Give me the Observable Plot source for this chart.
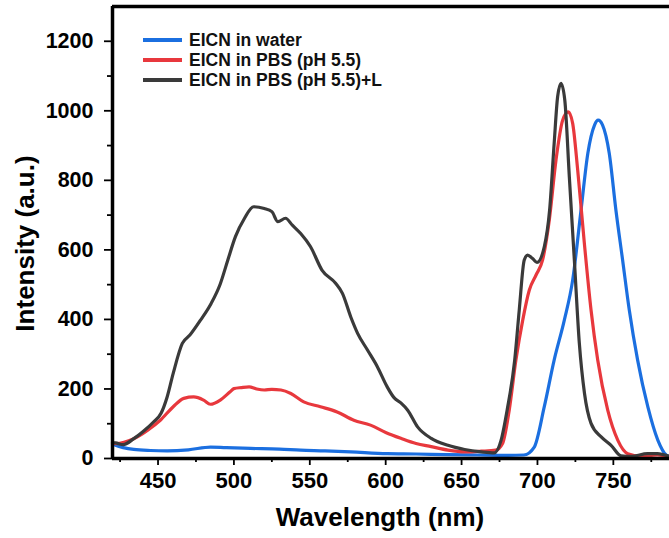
<!DOCTYPE html>
<html>
<head>
<meta charset="utf-8">
<script src="https://cdn.jsdelivr.net/npm/d3@7"></script>
<script src="https://cdn.jsdelivr.net/npm/@observablehq/plot@0.6"></script>
<style>
  html, body { margin: 0; padding: 0; background: #fff; }
  #wrap { position: relative; width: 669px; height: 538px; overflow: hidden; }
  #legend { position: absolute; left: 143px; top: 30px; font-family: "Liberation Sans", Arial, sans-serif; font-weight: bold; font-size: 17.5px; color: #111; }
  #legend .row { display: flex; align-items: center; height: 20px; }
  #legend .sw { width: 39px; height: 4px; margin-right: 7px; }
</style>
</head>
<body>
<div id="wrap"><div id="legend"></div></div>
<script>
const seriesNames = ["EICN in water", "EICN in PBS (pH 5.5)", "EICN in PBS (pH 5.5)+L"];
const seriesColors = ["#1b6fe0", "#e8383d", "#3a3a3a"];

const wlWater = [420,422,434,445,456,470,484.6,495,511,530,544,560,577,601,620,640,660,680,691,697.9,704.5,711,717.7,723.2,728.7,733.2,737.6,740,742.9,747.3,751.7,756.1,760.5,766,772.7,779.3,784.8,787];
const intWater = [42,38,26,23,22,25,33,31,29,27,24,22,19,14,13,11,10,9,10,33,149,283,398,513,714,878,959,973,959,878,714,571,427,283,149,53,10,5];

const wlPBS = [420,422,434,443,451.5,460,467,473.5,480,484.5,491,497.5,500,505,510,515,520,525,531,537.5,546,557,568,579,590,600,610,620,630,641,652,663,672.5,677,681.4,685.8,690.3,694.6,699,703.4,707.8,712.2,716.6,720.3,723.2,726.5,730.9,735.3,739.7,746.3,752.9,759.5,768,779,787];
const intPBS = [44,43,57,81,110,149,173,177,168,156,168,192,201,204,206,200,197,199,197,187,163,149,134,110,96,75,58,43,34,24,19,21,24,43,139,283,398,484,527,571,686,858,973,997,964,830,619,427,283,139,53,14,7,10,5];

const wlPBSL = [420,422,427,434,440,447,452,456,460,466,471,478,485,491,496,501,507,513,520,525,529,534,538.5,544,550.5,558,567,571.5,577,581.5,588,594.5,601,605.5,610,614.5,621,630,641,652,663,671.5,676,680,685,688,691.3,693.5,696.8,699.7,704.5,708,711,713.3,715.5,718,721,724.3,727.6,731,735.3,742,748.5,755,762,772.5,779,787];
const intPBSL = [46,45,40,57,77,105,130,177,245,331,355,398,446,502,571,638,691,724,719,710,681,691,671,647,609,542,504,475,407,360,312,264,206,175,160,139,91,58,38,26,19,16,52,139,283,427,571,585,575,564,609,714,906,1041,1079,1031,810,571,331,187,101,62,38,8,6,14,14,6];

const xMajor = [450,500,550,600,650,700,750];
const xMinor = [425,475,525,575,625,675,725,775];
const yMajor = [0,200,400,600,800,1000,1200];
const yMinor = [100,300,500,700,900,1100];

const xDomain = [420, 787];
const yDomain = [0, 1300];

const wls = [wlWater, wlPBS, wlPBSL];
const ints = [intWater, intPBS, intPBSL];
const rows = [];
seriesNames.forEach((s, k) => wls[k].forEach((w, i) => rows.push({series: s, wl: w, v: ints[k][i]})));

const font = "'Liberation Sans', Arial, sans-serif";

const chart = Plot.plot({
  width: 669,
  height: 538,
  marginLeft: 112,
  marginRight: 0,
  marginTop: 6,
  marginBottom: 80,
  style: {fontFamily: font, fontWeight: "bold", color: "#000", background: "#fff", overflow: "visible"},
  x: {domain: xDomain},
  y: {domain: yDomain},
  color: {domain: seriesNames, range: seriesColors},
  marks: [
    Plot.axisX({ticks: xMinor, tickSize: 4, tickFormat: () => "", strokeWidth: 1.8, label: null}),
    Plot.axisX({ticks: xMajor, tickSize: 7, tickPadding: 7, tickFormat: d => String(d), fontSize: 22, fontWeight: "bold", strokeWidth: 1.8, label: null}),
    Plot.axisY({ticks: yMinor, tickSize: 5, tickFormat: () => "", strokeWidth: 1.8, label: null}),
    Plot.axisY({ticks: yMajor, tickSize: 8, tickPadding: 11, tickFormat: d => String(d), fontSize: 21.5, fontWeight: "bold", strokeWidth: 1.8, label: null}),
    Plot.line(rows, {x: "wl", y: "v", z: "series", stroke: "series", strokeWidth: 3.2, curve: "monotone-x"}),
    Plot.ruleY([yDomain[1]], {stroke: "#000", strokeWidth: 3.5}),
    Plot.ruleY([yDomain[0]], {stroke: "#000", strokeWidth: 3.5}),
    Plot.ruleX([xDomain[0]], {stroke: "#000", strokeWidth: 3.5}),
    Plot.text(["Wavelength (nm)"], {frameAnchor: "bottom", textAnchor: "middle", dx: -11, dy: 67, fontSize: 26, fontWeight: "bold", fill: "#000"}),
    Plot.text(["Intensity (a.u.)"], {frameAnchor: "left", textAnchor: "middle", rotate: -90, dx: -87, dy: 11, fontSize: 26, fontWeight: "bold", fill: "#000"})
  ]
});
document.getElementById("wrap").prepend(chart);

const legend = document.getElementById("legend");
seriesNames.forEach((s, k) => {
  const row = document.createElement("div");
  row.className = "row";
  const sw = document.createElement("span");
  sw.className = "sw";
  sw.style.background = seriesColors[k];
  const t = document.createElement("span");
  t.textContent = s;
  row.append(sw, t);
  legend.append(row);
});
</script>
</body>
</html>
